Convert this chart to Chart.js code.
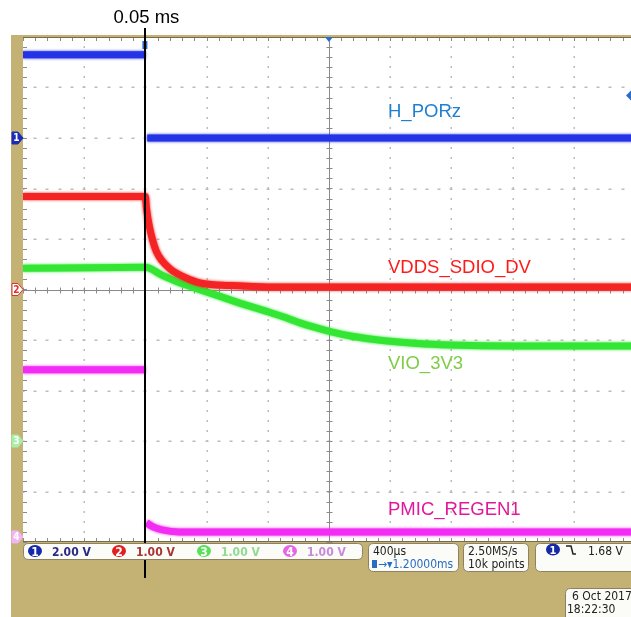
<!DOCTYPE html>
<html>
<head>
<meta charset="utf-8">
<script src="https://cdn.jsdelivr.net/npm/chart.js@4.4.1/dist/chart.umd.min.js"></script>
<style>
html, body { margin: 0; padding: 0; background: #fff; }
#wrap { position: relative; width: 631px; height: 617px; }
</style>
</head>
<body>
<div id="wrap"><canvas id="scope" width="631" height="617"></canvas></div>
<script>
// time in ms relative to the trigger, values in volts
const ch1Time  = [-0.8, 0, 0.004, 0.012, 3.2];
const ch1Volts = [3.3, 3.3, null, 0.0, 0.0];

const ch2Time  = [-0.8, 0, 0.007, 0.026, 0.046, 0.072, 0.111, 0.157, 0.203, 0.289, 0.374, 0.55, 0.8, 3.2];
const ch2Volts = [1.84, 1.84, 1.61, 1.25, 0.99, 0.75, 0.56, 0.42, 0.32, 0.20, 0.12, 0.08, 0.05, 0.05];

const ch3Time  = [-0.8, 0, 0.111, 0.203, 0.334, 0.42, 0.55, 0.68, 0.81, 0.90, 1.01, 1.12, 1.23, 1.34, 1.55, 1.78, 1.99, 2.39, 3.2];
const ch3Volts = [3.42, 3.44, 3.28, 3.16, 3.02, 2.93, 2.80, 2.67, 2.55, 2.46, 2.34, 2.24, 2.15, 2.08, 1.99, 1.93, 1.90, 1.88, 1.88];

const ch4Time  = [-0.8, 0, 0.004, 0.007, 0.05, 0.11, 0.22, 3.2];
const ch4Volts = [3.31, 3.31, null, 0.28, 0.20, 0.14, 0.10, 0.10];

const channelNames  = ["H_PORz", "VDDS_SDIO_DV", "VIO_3V3", "PMIC_REGEN1"];
const channelScales = ["2.00 V", "1.00 V", "1.00 V", "1.00 V"];
const cursorLabel = "0.05 ms";
const timebase = "400µs";
const delay = "1.20000ms";
const sampleRate = "2.50MS/s";
const recordLength = "10k points";
const triggerLevel = "1.68 V";
const dateText = "6 Oct 2017";
const timeText = "18:22:30";

const traceColors = ["#2433e6", "#f42424", "#34e634", "#f22cf2"];
const labelColors = ["#1f7fd1", "#ff1a1a", "#80cc48", "#e2189a"];
const tan = "#c4b274";

function pts(t, v) { return t.map((x, i) => ({ x: x, y: v[i] })); }

function roundRect(ctx, x, y, w, h, r) {
  ctx.beginPath();
  ctx.moveTo(x + r, y);
  ctx.lineTo(x + w - r, y);
  ctx.quadraticCurveTo(x + w, y, x + w, y + r);
  ctx.lineTo(x + w, y + h - r);
  ctx.quadraticCurveTo(x + w, y + h, x + w - r, y + h);
  ctx.lineTo(x + r, y + h);
  ctx.quadraticCurveTo(x, y + h, x, y + h - r);
  ctx.lineTo(x, y + r);
  ctx.quadraticCurveTo(x, y, x + r, y);
  ctx.closePath();
}

const scopeFrame = {
  id: 'scopeFrame',
  beforeDraw(chart) {
    const ctx = chart.ctx, a = chart.chartArea;
    ctx.save();
    ctx.fillStyle = tan;
    ctx.fillRect(11, 35, 631 - 11, 617 - 35);
    ctx.fillStyle = "#ffffff";
    ctx.fillRect(a.left, a.top, a.right - a.left, a.bottom - a.top);
    ctx.restore();
  },
  beforeDatasetsDraw(chart) {
    const ctx = chart.ctx, a = chart.chartArea;
    const xs = chart.scales.x, ys = chart.scales.y2;
    ctx.save();
    ctx.fillStyle = "#bcbcbc";
    // dotted graticule
    for (let i = 1; i < 10; i++) {
      if (i === 5) continue;
      const px = Math.round(xs.getPixelForValue(-0.8 + 0.4 * i));
      for (let d = -5; d <= 5.001; d += 0.2) {
        const py = Math.round(ys.getPixelForValue(d));
        ctx.fillRect(px - 0.5, py - 1, 1.5, 2);
      }
    }
    for (let k = -4; k <= 4; k++) {
      if (k === 0) continue;
      const py = Math.round(ys.getPixelForValue(k));
      for (let t = -0.8; t <= 3.2; t += 0.08) {
        const px = Math.round(xs.getPixelForValue(t));
        ctx.fillRect(px - 1.5, py - 0.5, 3, 1.5);
      }
    }
    // center crosshair with ticks
    const cx = Math.round(xs.getPixelForValue(1.2)) + 0.5;
    const cy = Math.round(ys.getPixelForValue(0)) + 0.5;
    ctx.strokeStyle = "#8a8a8a";
    ctx.lineWidth = 1;
    ctx.beginPath();
    ctx.moveTo(cx, a.top); ctx.lineTo(cx, a.bottom);
    ctx.moveTo(a.left, cy); ctx.lineTo(a.right, cy);
    for (let d = -5; d <= 5.001; d += 0.2) {
      const py = Math.round(ys.getPixelForValue(d)) + 0.5;
      ctx.moveTo(cx - 3, py); ctx.lineTo(cx + 3, py);
      ctx.moveTo(a.left, py); ctx.lineTo(a.left + 4, py);
    }
    for (let t = -0.8; t <= 3.2; t += 0.08) {
      const px = Math.round(xs.getPixelForValue(t)) + 0.5;
      ctx.moveTo(px, cy - 3); ctx.lineTo(px, cy + 3);
      ctx.moveTo(px, a.top); ctx.lineTo(px, a.top + 4);
      ctx.moveTo(px, a.bottom); ctx.lineTo(px, a.bottom - 4);
    }
    ctx.stroke();
    // frame lines
    ctx.strokeStyle = "#7a6a48";
    ctx.beginPath();
    ctx.moveTo(a.left, a.top + 0.5); ctx.lineTo(a.right, a.top + 0.5);
    ctx.moveTo(a.left, a.bottom - 0.5); ctx.lineTo(a.right, a.bottom - 0.5);
    ctx.stroke();
    ctx.restore();
  },
  beforeDatasetDraw(chart, args) {
    const ctx = chart.ctx;
    ctx.save();
    ctx.shadowColor = args.meta.dataset.options.borderColor;
    ctx.shadowBlur = 3;
  },
  afterDatasetDraw(chart) {
    chart.ctx.restore();
  },
  afterDatasetsDraw(chart) {
    const ctx = chart.ctx, a = chart.chartArea;
    const xs = chart.scales.x;
    ctx.save();
    // channel ground markers on the left strip
    const marks = [
      { scale: 'y1', fill: "#1a2cb4", stroke: "#1a2cb4", text: "#ffffff" },
      { scale: 'y2', fill: "#ffffff", stroke: "#e03030", text: "#e03030" },
      { scale: 'y3', fill: "#a8eea8", stroke: "#a8eea8", text: "#ffffff" },
      { scale: 'y4', fill: "#f2b4f2", stroke: "#f2b4f2", text: "#ffffff" }
    ];
    marks.forEach((m, i) => {
      const py = Math.min(chart.scales[m.scale].getPixelForValue(0), a.bottom - 5);
      ctx.beginPath();
      ctx.moveTo(12, py - 6); ctx.lineTo(18, py - 6); ctx.lineTo(23, py);
      ctx.lineTo(18, py + 6); ctx.lineTo(12, py + 6); ctx.closePath();
      ctx.fillStyle = m.fill; ctx.fill();
      ctx.strokeStyle = m.stroke; ctx.lineWidth = 1; ctx.stroke();
      ctx.fillStyle = m.text;
      ctx.font = "bold 10px 'DejaVu Sans Condensed', Arial";
      ctx.textAlign = "center"; ctx.textBaseline = "middle";
      ctx.fillText(String(i + 1), 16.5, py + 0.5);
    });
    // trigger position and expansion markers
    const tx = xs.getPixelForValue(0);
    ctx.fillStyle = "#2a6cd0";
    ctx.fillRect(tx - 3, a.top + 4, 5, 8);
    const ex = xs.getPixelForValue(1.2);
    ctx.beginPath();
    ctx.moveTo(ex - 4, a.top); ctx.lineTo(ex + 4, a.top); ctx.lineTo(ex, a.top + 5); ctx.closePath();
    ctx.fill();
    const ty = chart.scales.y1.getPixelForValue(1.68);
    ctx.beginPath();
    ctx.moveTo(631, ty - 5); ctx.lineTo(626, ty); ctx.lineTo(631, ty + 5); ctx.closePath();
    ctx.fill();
    // cursor line
    ctx.strokeStyle = "#000000";
    ctx.lineWidth = 2;
    ctx.beginPath();
    ctx.moveTo(Math.round(tx), 28); ctx.lineTo(Math.round(tx), 578);
    ctx.stroke();
    ctx.restore();
  },
  afterDraw(chart) {
    const ctx = chart.ctx;
    const xs = chart.scales.x;
    ctx.save();
    ctx.textAlign = "center"; ctx.textBaseline = "alphabetic";
    ctx.fillStyle = "#000000";
    ctx.font = "18.5px Arial, 'Liberation Sans'";
    ctx.fillText(cursorLabel, xs.getPixelForValue(0) + 1, 23);

    // trace labels
    ctx.textAlign = "left";
    const labelY = [117, 273, 369, 515];
    channelNames.forEach((n, i) => {
      ctx.fillStyle = labelColors[i];
      ctx.fillText(n, 388, labelY[i]);
    });

    // status bar
    ctx.lineWidth = 1;
    ctx.strokeStyle = "#8c8262";
    ctx.fillStyle = "#fbfbf8";
    const boxes = [[23.5, 543.5, 339, 16], [368.5, 543.5, 90, 28], [463.5, 543.5, 65, 28], [535.5, 543.5, 110, 28], [565.5, 588.5, 80, 34]];
    boxes.forEach(b => { roundRect(ctx, b[0], b[1], b[2], b[3], 5); ctx.fill(); ctx.stroke(); });

    const circleFill = ["#1428a8", "#e02020", "#58e058", "#e466e4"];
    const scaleColor = ["#2a2a84", "#a83434", "#92da92", "#c88ad8"];
    const cxs = [35, 119, 204, 290];
    ctx.font = "bold 12px 'DejaVu Sans Condensed', Arial";
    cxs.forEach((cx, i) => {
      ctx.fillStyle = circleFill[i];
      ctx.beginPath(); ctx.ellipse(cx, 551, 7, 6, 0, 0, Math.PI * 2); ctx.fill();
      ctx.fillStyle = "#ffffff";
      ctx.textAlign = "center";
      ctx.fillText(String(i + 1), cx, 555.5);
      ctx.fillStyle = scaleColor[i];
      ctx.textAlign = "left";
      ctx.fillText(channelScales[i], cx + 17, 556);
    });

    ctx.font = "12px 'DejaVu Sans Condensed', Arial";
    ctx.fillStyle = "#222222";
    ctx.fillText(timebase, 373, 555);
    ctx.fillText(sampleRate, 468, 555);
    ctx.fillText(recordLength, 468, 568);
    ctx.fillStyle = "#2a6cc4";
    ctx.fillRect(372, 560, 5, 8);
    ctx.fillText("→▾" + delay, 378, 568);

    ctx.fillStyle = "#1428a8";
    ctx.beginPath(); ctx.ellipse(553, 549.5, 7, 6, 0, 0, Math.PI * 2); ctx.fill();
    ctx.fillStyle = "#ffffff";
    ctx.textAlign = "center";
    ctx.font = "bold 11px 'DejaVu Sans Condensed', Arial";
    ctx.fillText("1", 553, 553.5);
    ctx.textAlign = "left";
    ctx.fillStyle = "#222222";
    ctx.strokeStyle = "#222222";
    ctx.lineWidth = 1.5;
    ctx.beginPath(); ctx.moveTo(566, 546); ctx.lineTo(571, 546); ctx.lineTo(573, 554); ctx.lineTo(576, 554); ctx.stroke();
    ctx.font = "12px 'DejaVu Sans Condensed', Arial";
    ctx.fillText(triggerLevel, 588, 555);
    ctx.fillText(dateText, 572, 600);
    ctx.fillText(timeText, 567, 613);
    ctx.restore();
  }
};

const ds = (data, idx, axis) => ({
  data: data,
  yAxisID: axis,
  borderColor: traceColors[idx],
  borderWidth: 7,
  pointRadius: 0,
  spanGaps: false,
  cubicInterpolationMode: 'monotone',
  label: channelNames[idx]
});

new Chart(document.getElementById('scope'), {
  type: 'line',
  data: {
    datasets: [
      ds(pts(ch2Time, ch2Volts), 1, 'y2'),
      ds(pts(ch3Time, ch3Volts), 2, 'y3'),
      ds(pts(ch1Time, ch1Volts), 0, 'y1'),
      ds(pts(ch4Time, ch4Volts), 3, 'y4')
    ]
  },
  options: {
    responsive: false,
    animation: false,
    events: [],
    layout: { padding: { left: 23, top: 37, right: 0, bottom: 75 } },
    plugins: { legend: { display: false }, tooltip: { enabled: false } },
    scales: {
      x: { type: 'linear', min: -0.8, max: 3.174, display: false },
      y1: { min: -16, max: 4, display: false },
      y2: { min: -5, max: 5, display: false },
      y3: { min: -2, max: 8, display: false },
      y4: { min: -0.1, max: 9.9, display: false }
    }
  },
  plugins: [scopeFrame]
});
</script>
</body>
</html>
